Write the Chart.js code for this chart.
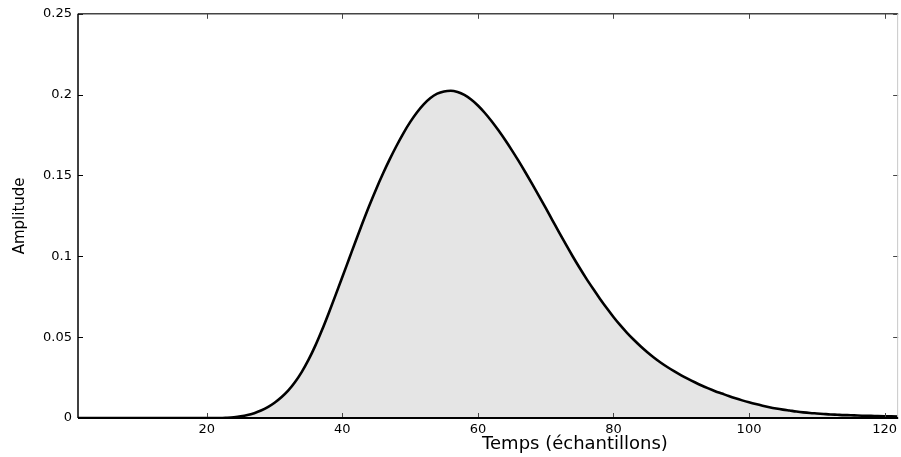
<!DOCTYPE html>
<html>
<head>
<meta charset="utf-8">
<script src="https://cdn.jsdelivr.net/npm/chart.js@4.4.1/dist/chart.umd.min.js"></script>
<style>
  html, body { margin: 0; padding: 0; background: #fff; }
  #wrap { width: 901px; height: 457px; }
</style>
</head>
<body>
<div id="wrap"><canvas id="c" width="901" height="457"></canvas></div>
<script>
// Sample index (échantillons)
const SAMPLES = [1,2,3,4,5,6,7,8,9,10,11,12,13,14,15,16,17,18,19,20,
  21,22,23,24,25,26,27,28,29,30,31,32,33,34,35,36,37,38,39,40,
  41,42,43,44,45,46,47,48,49,50,51,52,53,54,55,56,57,58,59,60,
  61,62,63,64,65,66,67,68,69,70,71,72,73,74,75,76,77,78,79,80,
  81,82,83,84,85,86,87,88,89,90,91,92,93,94,95,96,97,98,99,100,
  101,102,103,104,105,106,107,108,109,110,111,112,113,114,115,116,117,118,119,120,
  121,122];
// Amplitude
const AMPLITUDE = [0,0,0,0,0,0,0,0,0,0,0,0,0,0,0,0,0,0,0,0,
  0,0,0.0002,0.0005,0.0010,0.0018,0.0030,0.0046,0.0067,0.0094,
  0.0128,0.0169,0.0221,0.0284,0.0359,0.0446,0.0544,0.0650,0.0760,0.0872,
  0.0985,0.1098,0.1209,0.1316,0.1417,0.1512,0.1601,0.1684,0.1761,0.1830,
  0.1890,0.1940,0.1979,0.2006,0.2020,0.2024,0.2016,0.1998,0.1970,0.1933,
  0.1888,0.1837,0.1781,0.1721,0.1657,0.1590,0.1520,0.1448,0.1374,0.1299,
  0.1223,0.1147,0.1072,0.0999,0.0929,0.0862,0.0799,0.0738,0.0680,0.0625,
  0.0574,0.0527,0.0484,0.0444,0.0407,0.0373,0.0342,0.0314,0.0288,0.0264,
  0.0242,0.0221,0.0201,0.0183,0.0166,0.0151,0.0136,0.0122,0.0109,0.0097,
  0.0086,0.0076,0.0067,0.0059,0.0052,0.0046,0.0040,0.0035,0.0031,0.0028,
  0.0025,0.0022,0.0020,0.0018,0.0017,0.0015,0.0014,0.0013,0.0012,0.0011,
  0.0010,0.0009];
const X_TICKS = [20, 40, 60, 80, 100, 120];
const Y_TICKS = [0, 0.05, 0.1, 0.15, 0.2, 0.25];
const X_TITLE = 'Temps (échantillons)';
const Y_TITLE = 'Amplitude';

const points = SAMPLES.map((s, i) => ({ x: s, y: AMPLITUDE[i] }));

const framePlugin = {
  id: 'frame',
  afterDatasetsDraw(chart) {
    const { ctx, chartArea: a, scales: { x, y } } = chart;
    ctx.save();
    const seg = (x1, y1, x2, y2) => { ctx.beginPath(); ctx.moveTo(x1, y1); ctx.lineTo(x2, y2); ctx.stroke(); };
    ctx.lineWidth = 1;
    // inward ticks
    Y_TICKS.forEach(v => {
      const py = Math.round(y.getPixelForValue(v)) + 0.5;
      ctx.strokeStyle = '#000';
      seg(a.left, py, a.left + 5, py);
      ctx.strokeStyle = '#444';
      seg(a.right, py, a.right - 5, py);
    });
    X_TICKS.forEach(v => {
      const px = Math.round(x.getPixelForValue(v)) + 0.5;
      ctx.strokeStyle = '#444';
      seg(px, a.bottom, px, a.bottom - 5);
      seg(px, a.top, px, a.top + 5);
    });
    // box
    ctx.strokeStyle = '#444';
    ctx.lineWidth = 1.5;
    seg(a.left, a.top, a.right, a.top);
    ctx.strokeStyle = '#c8c8c8';
    ctx.lineWidth = 1;
    seg(a.right - 0.5, a.top, a.right - 0.5, a.bottom);
    ctx.strokeStyle = '#000';
    ctx.lineWidth = 1.5;
    seg(a.left, a.top, a.left, a.bottom);
    ctx.lineWidth = 2;
    seg(a.left, a.bottom, a.right, a.bottom);
    ctx.restore();
  },
  afterDraw(chart) {
    const { ctx, chartArea: a } = chart;
    ctx.save();
    ctx.fillStyle = '#000';
    ctx.font = '18px "DejaVu Sans"';
    ctx.textAlign = 'center';
    ctx.textBaseline = 'alphabetic';
    ctx.fillText(X_TITLE, a.left + 0.606 * (a.right - a.left), 449);
    ctx.restore();
  }
};

new Chart(document.getElementById('c'), {
  type: 'line',
  data: {
    datasets: [{
      data: points,
      borderColor: '#000',
      borderWidth: 2.6,
      backgroundColor: '#e5e5e5',
      fill: 'origin',
      pointRadius: 0,
      cubicInterpolationMode: 'monotone'
    }]
  },
  options: {
    responsive: false,
    animation: false,
    layout: { padding: { top: 11, right: 1, bottom: 0, left: 0 } },
    plugins: { legend: { display: false }, tooltip: { enabled: false }, title: { display: false } },
    scales: {
      x: {
        type: 'linear',
        min: 1,
        max: 122,
        afterBuildTicks: s => { s.ticks = X_TICKS.map(v => ({ value: v })); },
        afterFit: s => { s.height = 39; },
        grid: { display: false, drawTicks: false },
        border: { display: false },
        ticks: { color: '#000', padding: 4, maxRotation: 0, autoSkip: false,
                 font: { family: 'DejaVu Sans', size: 13 } }
      },
      y: {
        type: 'linear',
        min: 0,
        max: 0.25,
        afterBuildTicks: s => { s.ticks = Y_TICKS.map(v => ({ value: v })); },
        afterFit: s => { s.width = 78; },
        grid: { display: false, drawTicks: false },
        border: { display: false },
        title: { display: true, text: Y_TITLE, color: '#000', padding: { top: 11, bottom: 0 },
                 font: { family: 'DejaVu Sans', size: 15 } },
        ticks: { color: '#000', padding: 6, autoSkip: false,
                 callback: v => String(+Number(v).toFixed(2)),
                 font: { family: 'DejaVu Sans', size: 13 } }
      }
    }
  },
  plugins: [framePlugin]
});
</script>
</body>
</html>
